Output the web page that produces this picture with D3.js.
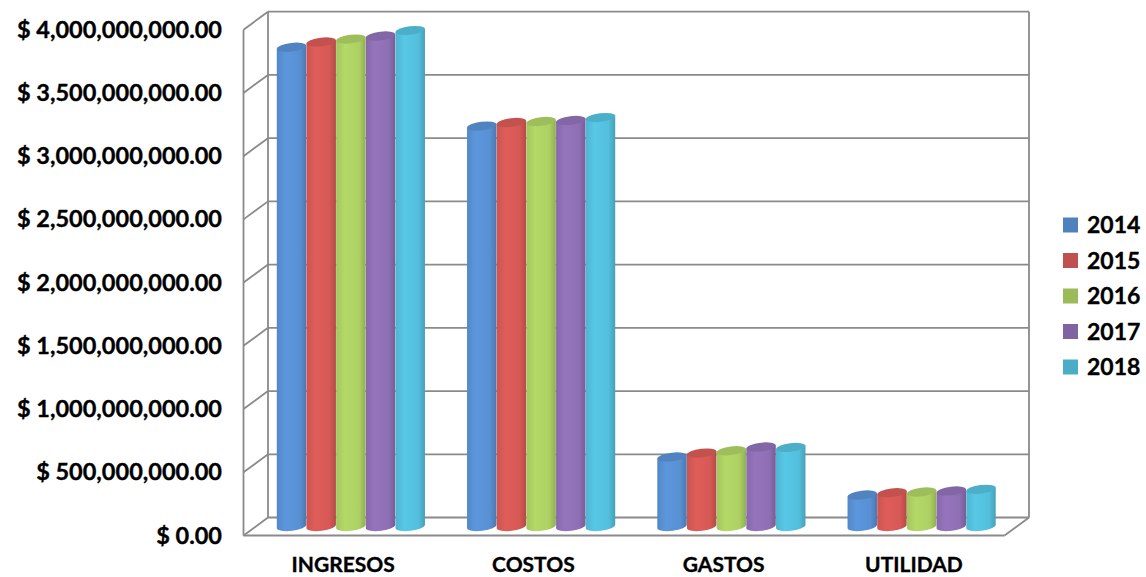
<!DOCTYPE html>
<html>
<head>
<meta charset="utf-8">
<script src="https://cdn.jsdelivr.net/npm/d3@7"></script>
<style>
  html, body { margin: 0; padding: 0; background: #ffffff; }
  svg { display: block; }
  text { font-family: "Lato", "Open Sans", sans-serif; font-weight: 700; fill: #000; stroke: #000; stroke-width: 0.35px; }
</style>
</head>
<body>
<svg id="chart" width="1146" height="577"></svg>
<script>
// Categories, series and axis ticks
const categories = ["INGRESOS", "COSTOS", "GASTOS", "UTILIDAD"];
const years = ["2014", "2015", "2016", "2017", "2018"];
const values2014 = [3.790e9, 3.167e9, 0.550e9, 0.249e9];
const values2015 = [3.832e9, 3.195e9, 0.581e9, 0.267e9];
const values2016 = [3.855e9, 3.203e9, 0.599e9, 0.273e9];
const values2017 = [3.879e9, 3.211e9, 0.629e9, 0.281e9];
const values2018 = [3.922e9, 3.234e9, 0.625e9, 0.294e9];
const yTicks = [0, 5e8, 1e9, 1.5e9, 2e9, 2.5e9, 3e9, 3.5e9, 4e9];
const seriesColors = ["#4F81BD", "#C0504D", "#9BBB59", "#8064A2", "#4BACC6"];

const seriesValues = [values2014, values2015, values2016, values2017, values2018];

const svg = d3.select("#chart");

// Back wall of the 3D plot area and the depth offset toward the viewer
const wallLeft = 268, wallRight = 1029;
const depthX = -24.5, depthY = 18;

const y = d3.scaleLinear().domain([0, 4e9]).range([517.5, 11.7]);
const x0 = d3.scaleBand().domain(categories).range([wallLeft, wallRight])
  .paddingInner(0.22).paddingOuter(0.11);
const x1 = d3.scaleBand().domain(years).range([0, x0.bandwidth()]);

const gridColor = "#8a8a8a";
const frame = svg.append("g").attr("fill", "none").attr("stroke", gridColor).attr("stroke-width", 1.8);

// Gridlines on the back wall and on the left side wall
yTicks.forEach(t => {
  const yy = y(t);
  frame.append("line").attr("x1", wallLeft).attr("y1", yy).attr("x2", wallRight).attr("y2", yy);
  frame.append("line").attr("x1", wallLeft).attr("y1", yy).attr("x2", wallLeft + depthX).attr("y2", yy + depthY);
});
const yTop = y(4e9), yZero = y(0);
// Wall edges and floor outline
frame.append("line").attr("x1", wallLeft).attr("y1", yTop).attr("x2", wallLeft).attr("y2", yZero);
frame.append("line").attr("x1", wallRight).attr("y1", yTop).attr("x2", wallRight).attr("y2", yZero);
frame.append("line").attr("x1", wallLeft + depthX).attr("y1", yTop + depthY).attr("x2", wallLeft + depthX).attr("y2", yZero + depthY);
frame.append("line").attr("x1", wallLeft + depthX).attr("y1", yZero + depthY).attr("x2", wallRight + depthX).attr("y2", yZero + depthY);
frame.append("line").attr("x1", wallRight).attr("y1", yZero).attr("x2", wallRight + depthX).attr("y2", yZero + depthY);

// Cylinder shading gradients, one per series
const defs = svg.append("defs");
seriesColors.forEach((c, i) => {
  const base = d3.color(c);
  const g = defs.append("linearGradient").attr("id", "cyl" + i)
    .attr("x1", 0).attr("y1", 0).attr("x2", 1).attr("y2", 0);
  g.append("stop").attr("offset", "0%").attr("stop-color", base.brighter(0.15).formatHex());
  g.append("stop").attr("offset", "30%").attr("stop-color", base.brighter(0.42).formatHex());
  g.append("stop").attr("offset", "78%").attr("stop-color", base.brighter(0.3).formatHex());
  g.append("stop").attr("offset", "100%").attr("stop-color", base.darker(0.2).formatHex());
});

// Cylinders sit halfway into the depth of the plot
const r = x1.bandwidth() / 2;
const ry = 4.3;
const tilt = 7; // degrees, right side higher
const sinT = Math.sin(tilt * Math.PI / 180), cosT = Math.cos(tilt * Math.PI / 180);

const bars = [];
categories.forEach((cat, ci) => {
  years.forEach((yr, si) => {
    bars.push({ cat, yr, si, value: seriesValues[si][ci] });
  });
});

const barG = svg.append("g");
const cyl = barG.selectAll("g.cyl").data(bars).join("g").attr("class", "cyl");

cyl.each(function(d) {
  const g = d3.select(this);
  const cx = x0(d.cat) + x1(d.yr) + r + depthX / 2;
  const yt = y(d.value) + depthY / 2;
  const yb = y(0) + depthY / 2;
  const lx = cx - r * cosT, rx = cx + r * cosT;
  const path = `M${lx},${yt + r * sinT} L${lx},${yb + r * sinT} ` +
    `A${r},${ry} ${-tilt} 0 0 ${rx},${yb - r * sinT} L${rx},${yt - r * sinT} Z`;
  g.append("path").attr("d", path).attr("fill", `url(#cyl${d.si})`);
  g.append("ellipse")
    .attr("cx", cx).attr("cy", yt).attr("rx", r).attr("ry", ry)
    .attr("transform", `rotate(${-tilt},${cx},${yt})`)
    .attr("fill", d3.color(seriesColors[d.si]).brighter(0.05).formatHex());
});

// Value axis, labels aligned with the front edge
const yFront = y.copy().range(y.range().map(v => v + depthY));
const fmt = d3.format(",.2f");
const yAxis = d3.axisLeft(yFront).tickValues(yTicks).tickSize(0).tickPadding(0)
  .tickFormat(d => "$ " + fmt(d));
const yAxisG = svg.append("g").attr("transform", "translate(222,0)").call(yAxis);
yAxisG.select(".domain").remove();
yAxisG.selectAll("text").style("font-size", "23.5px").style("font-family", "Lato, 'Open Sans', sans-serif")
  .style("font-weight", 700).attr("fill", "#000");

// Category axis along the front of the floor
const xLabel = d3.scaleBand().domain(categories).range([wallLeft - 20, wallRight - 20]);
const xAxis = d3.axisBottom(xLabel).tickSize(0).tickPadding(0);
const xAxisG = svg.append("g").attr("transform", "translate(0,557)").call(xAxis);
xAxisG.select(".domain").remove();
xAxisG.selectAll("text").style("font-size", "21px").style("font-family", "Lato, 'Open Sans', sans-serif")
  .style("font-weight", 700).attr("fill", "#000");

// Legend
const legend = svg.append("g").attr("transform", "translate(1063,225)");
const item = legend.selectAll("g").data(years).join("g")
  .attr("transform", (d, i) => `translate(0,${i * 35.5})`);
item.append("rect").attr("x", 0).attr("y", -7.5).attr("width", 15).attr("height", 15)
  .attr("fill", (d, i) => seriesColors[i]);
item.append("text").attr("x", 24).attr("y", 0).attr("dy", "0.36em")
  .style("font-size", "23px").text(d => d);
</script>
</body>
</html>
